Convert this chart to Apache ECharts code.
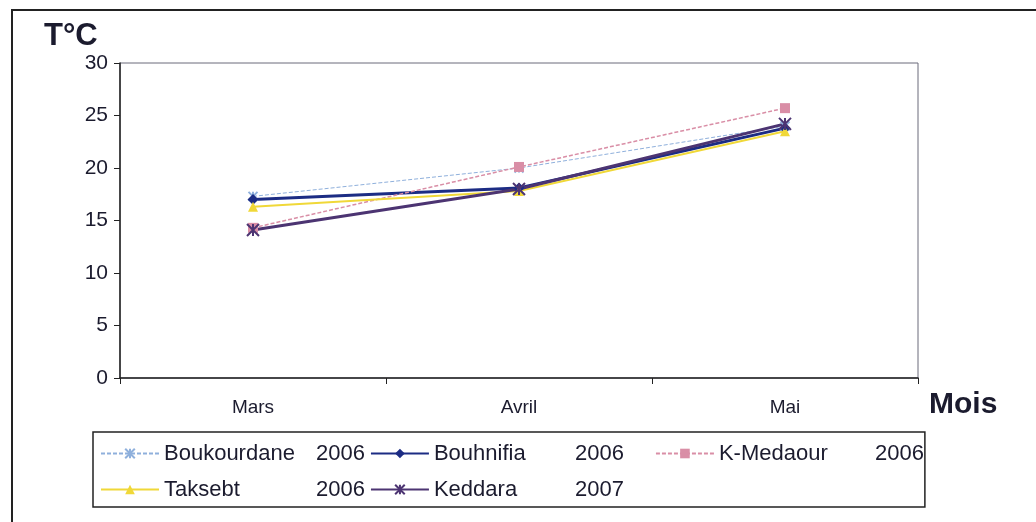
<!DOCTYPE html>
<html><head><meta charset="utf-8">
<script src="https://cdn.jsdelivr.net/npm/echarts@6/dist/echarts.min.js"></script>
<style>html,body{margin:0;padding:0;background:#fff}#c{width:1036px;height:522px}</style>
</head><body><div id="c"></div>
<script>
const months = ['Mars', 'Avril', 'Mai'];
const yTicks = [0, 5, 10, 15, 20, 25, 30];
const seriesNames = ['Boukourdane 2006', 'Bouhnifia     2006', 'K-Medaour   2006', 'Taksebt       2006', 'Keddara       2007'];
const boukourdane = [17.3, 20.0, 24.0];
const bouhnifia = [17.0, 18.1, 23.8];
const kMedaour = [14.3, 20.1, 25.7];
const taksebt = [16.3, 17.8, 23.5];
const keddara = [14.1, 18.0, 24.2];

const FONT = '"Liberation Sans", Arial, sans-serif';
const TXT = '#1b1b2e';
const ASTER = 'path://M0,0L10,10M10,0L0,10M5,0L5,10';

function mk(name, data, color, width, symbol, size, type, stroke) {
  return {
    name: name, type: 'line', data: data, symbol: symbol, symbolSize: size,
    lineStyle: { color: color, width: width, type: type || 'solid' },
    itemStyle: stroke ? { color: color, borderColor: color, borderWidth: 2 } : { color: color },
    emphasis: { disabled: true }, animation: false
  };
}
const LF = 22;
function rs(w) { const o = { fontFamily: FONT, fontSize: LF, color: TXT, lineHeight: 31 }; if (w) o.width = w; return o; }

const chart = echarts.init(document.getElementById('c'));
chart.setOption({
  animation: false,
  backgroundColor: '#fff',
  grid: { left: 120, right: 118, top: 63, bottom: 144, show: true, borderColor: '#6a6a7a', borderWidth: 1 },
  xAxis: {
    type: 'category', data: months, boundaryGap: true,
    axisLine: { lineStyle: { color: '#222', width: 1.5 } },
    axisTick: { show: true, length: 6, lineStyle: { color: '#222' } },
    axisLabel: { fontFamily: FONT, fontSize: 19, color: TXT, margin: 20 },
    splitLine: { show: false }
  },
  yAxis: {
    type: 'value', min: yTicks[0], max: yTicks[yTicks.length - 1], interval: yTicks[1] - yTicks[0],
    axisLine: { show: true, lineStyle: { color: '#222', width: 1.5 } },
    axisTick: { show: true, length: 6, lineStyle: { color: '#222' } },
    axisLabel: { fontFamily: FONT, fontSize: 21, color: TXT, margin: 12 },
    splitLine: { show: false }
  },
  legend: {
    left: 93, top: 432, width: 832,
    padding: [6, 1, 2, 7],
    borderColor: '#222', borderWidth: 1.5,
    itemWidth: 58, itemHeight: 12, itemGap: 5,
    data: seriesNames,
    formatter: function (n) {
      const i = seriesNames.indexOf(n) % 3;
      const m = n.match(/^(.*?)\s+(\d{4})$/);
      return '{n' + i + '|' + m[1] + '}{y' + i + '|' + m[2] + '}';
    },
    textStyle: {
      fontFamily: FONT, fontSize: LF, color: TXT, lineHeight: 31,
      rich: { n0: rs(152), y0: rs(0), n1: rs(141), y1: rs(75), n2: rs(156), y2: rs(0) }
    }
  },
  graphic: [
    { type: 'rect', shape: { x: 12, y: 10, width: 1030, height: 530 }, style: { fill: 'none', stroke: '#222', lineWidth: 2 }, silent: true },
    { type: 'text', left: 44, top: 21, style: { text: 'T°C', font: 'bold 31px ' + FONT, fill: TXT } },
    { type: 'text', left: 929, top: 390, style: { text: 'Mois', font: 'bold 30px ' + FONT, fill: TXT } }
  ],
  series: [
    mk(seriesNames[0], boukourdane, '#8fb0dc', 1, ASTER, 9, [4, 2], true),
    mk(seriesNames[1], bouhnifia, '#1c2c84', 3, 'diamond', 11),
    mk(seriesNames[2], kMedaour, '#d98ea6', 1.5, 'rect', 10, [4, 2]),
    mk(seriesNames[3], taksebt, '#f0d838', 2, 'triangle', 10),
    mk(seriesNames[4], keddara, '#4c3472', 3, ASTER, 12, 'solid', true)
  ]
});
</script></body></html>
